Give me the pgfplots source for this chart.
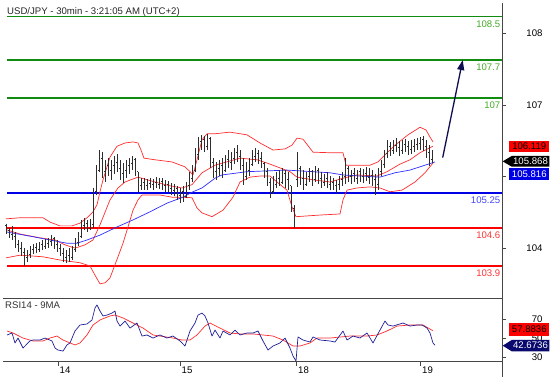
\documentclass[border=0pt]{standalone}
\usepackage{fontspec}
\setmainfont{Liberation Sans}
\usepackage{pgfplots}
\usepackage{pgfplotstable}
\pgfplotsset{compat=1.18}
\usetikzlibrary{arrows.meta}

\definecolor{lvlgreen}{RGB}{16,140,16}
\definecolor{txtgreen}{RGB}{70,170,40}
\definecolor{lvlblue}{RGB}{0,0,230}
\definecolor{txtblue}{RGB}{70,70,255}
\definecolor{lvlred}{RGB}{255,0,0}
\definecolor{txtred}{RGB}{255,50,50}
\definecolor{bandred}{RGB}{255,45,45}
\definecolor{mablue}{RGB}{45,45,255}
\definecolor{rsiblue}{RGB}{30,30,150}
\definecolor{arrownavy}{RGB}{15,15,80}
\definecolor{barcol}{RGB}{45,45,45}
\definecolor{axcol}{RGB}{70,70,70}
\definecolor{boxnavy}{RGB}{10,10,110}

\pgfplotstableread{
x o h l c
6 104.64 104.68 104.49 104.55
9 104.55 104.60 104.42 104.49
12 104.49 104.64 104.38 104.45
15 104.45 104.53 104.23 104.29
18 104.29 104.38 104.16 104.23
21 104.23 104.34 104.09 104.16
24 104.16 104.23 103.90 104.05
27 104.05 104.20 103.97 104.12
30 104.12 104.27 104.05 104.20
33 104.20 104.31 104.12 104.25
36 104.25 104.32 104.14 104.21
39 104.21 104.34 104.16 104.29
42 104.29 104.38 104.20 104.27
45 104.27 104.40 104.21 104.32
48 104.32 104.42 104.23 104.36
51 104.36 104.47 104.27 104.40
54 104.40 104.44 104.21 104.29
57 104.29 104.38 104.16 104.23
60 104.23 104.31 104.09 104.14
63 104.14 104.23 103.97 104.05
66 104.05 104.20 103.96 104.10
69 104.10 104.23 103.97 104.05
72 104.05 104.27 104.01 104.20
75 104.20 104.42 104.16 104.34
78 104.34 104.53 104.27 104.45
81 104.45 104.75 104.42 104.64
84 104.64 104.79 104.57 104.68
87 104.68 104.75 104.53 104.60
90 104.60 104.77 104.57 104.66
93 104.66 105.34 104.60 105.27
96 105.27 105.76 105.21 105.67
99 105.67 106.04 105.64 105.89
102 105.89 106.00 105.52 105.64
105 105.64 105.86 105.45 105.76
108 105.76 105.89 105.56 105.67
111 105.67 105.86 105.49 105.75
114 105.75 105.93 105.60 105.82
117 105.82 105.97 105.64 105.71
120 105.71 105.86 105.49 105.60
123 105.60 105.80 105.43 105.67
126 105.67 105.86 105.52 105.75
129 105.75 105.89 105.60 105.80
132 105.80 105.93 105.67 105.86
135 105.86 105.89 105.56 105.64
138 105.64 105.64 105.27 105.38
141 105.38 105.52 105.30 105.45
144 105.45 105.52 105.30 105.38
147 105.38 105.51 105.30 105.43
150 105.43 105.52 105.34 105.40
153 105.40 105.51 105.30 105.45
156 105.45 105.54 105.34 105.41
159 105.41 105.52 105.32 105.47
162 105.47 105.52 105.30 105.38
165 105.38 105.49 105.27 105.41
168 105.41 105.47 105.27 105.34
171 105.34 105.43 105.21 105.30
174 105.30 105.41 105.19 105.34
177 105.34 105.38 105.12 105.21
180 105.21 105.34 105.06 105.27
183 105.27 105.38 105.08 105.19
186 105.19 105.45 105.16 105.38
189 105.38 105.64 105.30 105.52
192 105.52 105.76 105.45 105.67
195 105.67 106.08 105.64 105.95
198 105.95 106.28 105.86 106.19
201 106.19 106.32 106.04 106.23
204 106.23 106.30 106.00 106.11
207 106.11 106.34 106.04 106.26
210 106.26 106.28 105.71 105.82
213 105.82 105.89 105.52 105.64
216 105.64 105.82 105.49 105.71
219 105.71 105.86 105.56 105.75
222 105.75 105.89 105.52 105.67
225 105.67 105.95 105.64 105.86
228 105.86 106.04 105.71 105.82
231 105.82 106.00 105.67 105.89
234 105.89 106.08 105.78 106.00
237 106.00 106.13 105.82 105.93
240 105.93 106.04 105.67 105.75
243 105.75 105.89 105.40 105.56
246 105.56 105.82 105.49 105.67
249 105.67 105.89 105.56 105.78
252 105.78 106.04 105.75 105.93
255 105.93 106.08 105.82 105.97
258 105.97 106.04 105.78 105.89
261 105.89 106.00 105.71 105.80
264 105.80 105.82 105.52 105.64
267 105.64 105.71 105.38 105.45
270 105.45 105.52 105.16 105.27
273 105.27 105.56 105.23 105.41
276 105.41 105.64 105.34 105.52
279 105.52 105.67 105.38 105.45
282 105.45 105.71 105.41 105.60
285 105.60 105.67 105.34 105.49
288 105.49 105.64 105.30 105.38
291 105.38 105.38 104.90 104.97
294 104.97 105.03 104.60 104.68
297 105.49 106.00 105.36 105.71
300 105.71 105.75 105.40 105.52
303 105.52 105.67 105.30 105.41
306 105.41 105.64 105.38 105.56
309 105.56 105.71 105.45 105.64
312 105.64 105.67 105.38 105.49
315 105.49 105.75 105.45 105.67
318 105.67 105.71 105.41 105.52
321 105.52 105.64 105.34 105.45
324 105.45 105.60 105.38 105.52
327 105.52 105.64 105.34 105.41
330 105.41 105.56 105.30 105.45
333 105.45 105.52 105.30 105.38
336 105.38 105.49 105.25 105.41
339 105.41 105.56 105.30 105.49
342 105.49 105.64 105.38 105.56
345 105.56 105.89 105.41 105.71
348 105.71 105.75 105.45 105.56
351 105.56 105.67 105.41 105.60
354 105.60 105.71 105.45 105.52
357 105.52 105.67 105.41 105.64
360 105.64 105.71 105.45 105.56
363 105.56 105.69 105.43 105.60
366 105.60 105.73 105.47 105.54
369 105.54 105.71 105.41 105.58
372 105.58 105.67 105.38 105.49
375 105.49 105.60 105.21 105.40
378 105.40 105.71 105.30 105.64
381 105.64 105.86 105.56 105.78
384 105.78 106.04 105.71 105.97
387 105.97 106.23 105.89 106.11
390 106.11 106.19 105.93 106.04
393 106.04 106.23 105.97 106.13
396 106.13 106.26 106.00 106.08
399 106.08 106.21 105.93 106.04
402 106.04 106.23 105.97 106.15
405 106.15 106.24 106.00 106.10
408 106.10 106.21 105.95 106.06
411 106.06 106.23 105.97 106.11
414 106.11 106.24 106.00 106.15
417 106.15 106.26 106.04 106.17
420 106.17 106.28 106.04 106.23
423 106.23 106.30 106.02 106.11
426 106.11 106.23 105.89 106.00
429 106.00 106.13 105.75 105.86
432 105.86 106.04 105.80 105.87
}\ohlcdata

\pgfplotstableread{
x y
6 104.77
20 104.79
43 104.79
50 104.71
60 104.64
72 104.64
80 104.69
87 104.79
93 104.90
97 105.03
100 105.27
103 105.49
107 105.73
110 105.91
117 106.11
125 106.17
133 106.19
138 106.17
141 106.04
144 105.89
155 105.86
172 105.82
185 105.73
190 105.64
193 105.58
197 105.86
202 106.23
207 106.34
215 106.34
230 106.37
247 106.32
260 106.17
273 106.04
285 106.06
292 106.13
297 106.26
303 106.24
313 106.00
330 105.99
343 105.99
346 105.76
360 105.76
370 105.76
378 105.82
385 105.95
395 106.13
408 106.32
420 106.46
426 106.41
430 106.28
433 106.19
}\bbupperdata

\pgfplotstableread{
x y
6 104.57
20 104.49
40 104.42
55 104.38
65 104.29
75 104.23
85 104.29
93 104.38
100 104.66
110 105.12
118 105.34
125 105.45
138 105.54
155 105.45
170 105.38
182 105.34
192 105.40
202 105.62
215 105.76
240 105.89
257 105.86
267 105.80
280 105.71
290 105.64
297 105.54
313 105.49
330 105.45
343 105.52
357 105.58
377 105.56
387 105.64
400 105.78
410 105.86
420 105.99
433 106.11
}\bbmiddata

\pgfplotstableread{
x y
6 104.05
20 104.10
43 104.07
60 104.01
80 103.96
90 103.90
95 103.73
100 103.57
105 103.59
110 103.68
118 104.07
123 104.32
128 104.62
133 104.93
138 105.12
142 105.21
160 105.21
172 105.17
180 105.17
192 105.16
197 104.97
202 104.88
212 104.81
223 104.93
233 105.17
240 105.45
250 105.54
260 105.56
270 105.56
277 105.45
287 105.30
292 104.99
296 104.81
320 104.84
340 104.86
343 105.12
347 105.30
357 105.34
370 105.36
380 105.34
390 105.27
402 105.30
415 105.45
425 105.62
433 105.80
}\bblowdata

\pgfplotstableread{
x y
6 104.53
33 104.44
50 104.38
67 104.32
77 104.32
87 104.38
100 104.47
117 104.62
133 104.75
150 104.90
167 105.06
183 105.17
193 105.27
202 105.34
215 105.52
222 105.58
247 105.64
287 105.67
313 105.64
330 105.62
343 105.58
360 105.56
380 105.54
395 105.62
410 105.67
425 105.76
435 105.82
}\madata

\pgfplotstableread{
x y
7 53.5
12 55.6
15 45.1
18 50.3
23 39.8
30 47.2
33 48.2
40 48.2
45 50.3
52 47.2
55 39.8
58 37.7
63 36.6
67 43.0
70 45.1
75 57.7
80 64.0
87 65.1
92 69.3
95 81.9
97 85.1
100 78.7
103 73.5
107 74.5
112 76.6
115 78.7
117 68.2
120 62.9
125 68.2
130 60.8
137 66.1
142 52.4
147 53.5
153 50.3
160 53.5
167 50.3
173 52.4
180 47.2
185 41.9
190 57.7
195 66.1
198 74.5
202 76.6
205 73.5
208 66.1
212 52.4
215 58.7
220 50.3
223 57.7
230 53.5
235 58.7
240 53.5
247 55.6
253 55.6
258 57.7
263 47.2
268 37.7
273 41.9
280 45.1
285 50.3
290 39.8
293 31.4
296 26.1
298 51.4
303 48.2
310 46.1
313 51.4
320 48.2
330 47.2
335 46.1
343 57.7
347 48.2
353 52.4
360 50.3
367 55.6
373 45.1
380 58.7
385 68.2
388 64.0
393 62.9
403 66.1
410 62.9
417 64.0
422 64.0
427 60.8
430 55.6
433 45.1
435 42.7
}\rsidata

\pgfplotstableread{
x y
7 57.7
13 55.6
23 50.3
33 47.2
43 47.2
50 50.3
57 52.4
63 48.2
70 45.1
75 43.0
80 45.1
87 53.5
93 64.0
100 69.3
110 73.5
115 74.5
123 71.4
133 66.1
143 60.8
153 53.5
160 52.4
173 50.3
182 48.2
190 48.2
197 53.5
205 62.9
210 66.1
220 60.8
230 55.6
240 54.6
253 54.6
263 53.5
273 52.4
283 48.2
293 41.9
300 41.9
310 45.1
317 50.3
330 50.3
350 52.4
367 52.4
377 53.5
387 57.7
397 62.9
410 64.0
423 64.0
433 57.9
}\rsimadata

\newcommand{\lbl}{\fontsize{9.6}{11}\selectfont}

\begin{document}
\begin{tikzpicture}
\useasboundingbox (0pt,0pt) rectangle (558pt,377pt);

% ---------------- main price panel ----------------
\begin{axis}[
  at={(3pt,78.7pt)}, anchor=south west,
  scale only axis, width=499pt, height=295.3pt,
  xmin=3, xmax=502, ymin=103.304, ymax=108.753,
  axis x line*=bottom, axis y line*=right,
  axis line style={-, draw=axcol, line width=0.9pt},
  xtick=\empty,
  ytick={104.23,105.55,106.87,108.20},
  yticklabels={104,,107,108},
  tick align=outside, major tick length=4pt,
  tick style={axcol, line width=0.8pt},
  yticklabel style={anchor=east, xshift=40pt, font=\lbl, text=black},
  clip=true,
]
% level lines
\addplot[lvlgreen, line width=1.5pt] coordinates {(7,108.5) (502,108.5)};
\addplot[lvlgreen, line width=1.5pt] coordinates {(7,107.7) (502,107.7)};
\addplot[lvlgreen, line width=1.5pt] coordinates {(7,107.0) (502,107.0)};
\addplot[lvlblue, line width=1.5pt] coordinates {(7,105.25) (502,105.25)};
\addplot[lvlred, line width=1.5pt] coordinates {(7,104.6) (502,104.6)};
\addplot[lvlred, line width=1.5pt] coordinates {(7,103.9) (502,103.9)};
% bollinger & MA
\addplot[bandred, line width=0.7pt, line join=round] table[x=x,y=y] {\bbupperdata};
\addplot[bandred, line width=0.7pt, line join=round] table[x=x,y=y] {\bbmiddata};
\addplot[bandred, line width=0.7pt, line join=round] table[x=x,y=y] {\bblowdata};
\addplot[mablue, line width=0.7pt, line join=round] table[x=x,y=y] {\madata};
% OHLC bars
\addplot[barcol, line width=0.9pt, quiver={u=0, v=\thisrow{h}-\thisrow{l}}] table[x=x, y=l] {\ohlcdata};
\addplot[barcol, line width=0.8pt, quiver={u=-1.3, v=0}] table[x=x, y=o] {\ohlcdata};
\addplot[barcol, line width=0.8pt, quiver={u=1.3, v=0}] table[x=x, y=c] {\ohlcdata};
% forecast arrow
\addplot[arrownavy, line width=1.3pt, -{Triangle[length=10pt, width=7pt]}] coordinates {(442.7,105.90) (462.7,107.70)};
% level labels
\node[anchor=north east, inner sep=0pt, yshift=-4pt, font=\lbl, text=txtgreen] at (axis cs:500.5,108.5) {108.5};
\node[anchor=north east, inner sep=0pt, yshift=-4pt, font=\lbl, text=txtgreen] at (axis cs:500.5,107.7) {107.7};
\node[anchor=north east, inner sep=0pt, yshift=-4pt, font=\lbl, text=txtgreen] at (axis cs:500.5,107.0) {107};
\node[anchor=north east, inner sep=0pt, yshift=-4pt, font=\lbl, text=txtblue] at (axis cs:500.5,105.25) {105.25};
\node[anchor=north east, inner sep=0pt, yshift=-4pt, font=\lbl, text=txtred] at (axis cs:500.5,104.6) {104.6};
\node[anchor=north east, inner sep=0pt, yshift=-4pt, font=\lbl, text=txtred] at (axis cs:500.5,103.9) {103.9};
\end{axis}

% ---------------- RSI panel ----------------
\begin{axis}[
  at={(3pt,15.3pt)}, anchor=south west,
  scale only axis, width=499pt, height=63.4pt,
  xmin=3, xmax=502, ymin=25.4, ymax=92.1,
  axis x line*=bottom, axis y line*=right,
  axis line style={-, draw=axcol, line width=0.9pt},
  xtick={58,180,296.5,420.5},
  xticklabels={14,15,18,19},
  ytick={30,50,70},
  yticklabels={30,50,70},
  tick align=outside, major tick length=4pt,
  tick style={axcol, line width=0.8pt},
  yticklabel style={anchor=east, xshift=40pt, font=\lbl, text=black},
  xticklabel style={anchor=north west, inner sep=0pt, xshift=1.5pt, yshift=-1pt, font=\lbl, text=black},
  clip=true,
]
\addplot[bandred, line width=0.7pt, line join=round] table[x=x,y=y] {\rsimadata};
\addplot[rsiblue, line width=0.7pt, line join=round] table[x=x,y=y] {\rsidata};
\end{axis}

% extension of the price scale line to the bottom edge
\draw[axcol, line width=0.9pt] (502pt,0pt) -- (502pt,15.3pt);

% titles
\node[anchor=base west, inner sep=0pt, font=\lbl, text=black!85] at (7pt,362.5pt) {USD/JPY - 30min - 3:21:05 AM (UTC+2)};
\node[anchor=west, inner sep=0pt, font=\lbl, text=black!80] at (5pt,71.7pt) {RSI14 - 9MA};

% last-value boxes, price panel
\fill[lvlred] (509.3pt,225.3pt) rectangle (549.3pt,236.3pt);
\node[font=\lbl, text=black, inner sep=0pt] at (529.3pt,230.8pt) {106.119};
\fill[black] (502.7pt,215.65pt) -- (511.7pt,221pt) -- (549.3pt,221pt) -- (549.3pt,210.3pt) -- (511.7pt,210.3pt) -- cycle;
\node[font=\lbl, text=white, inner sep=0pt] at (530.5pt,215.65pt) {105.868};
\fill[lvlblue] (509.3pt,197pt) rectangle (549.3pt,208.7pt);
\node[font=\lbl, text=white, inner sep=0pt] at (529.3pt,202.85pt) {105.816};

% last-value boxes, RSI panel
\fill[lvlred] (509.3pt,41pt) rectangle (549.3pt,54.3pt);
\node[font=\lbl, text=black, inner sep=0pt] at (529.3pt,47.65pt) {57.8836};
\fill[boxnavy] (502.7pt,31.3pt) -- (511.7pt,37pt) -- (549.3pt,37pt) -- (549.3pt,25.7pt) -- (511.7pt,25.7pt) -- cycle;
\node[font=\lbl, text=white, inner sep=0pt] at (530.5pt,31.35pt) {42.6736};
\end{tikzpicture}
\end{document}
